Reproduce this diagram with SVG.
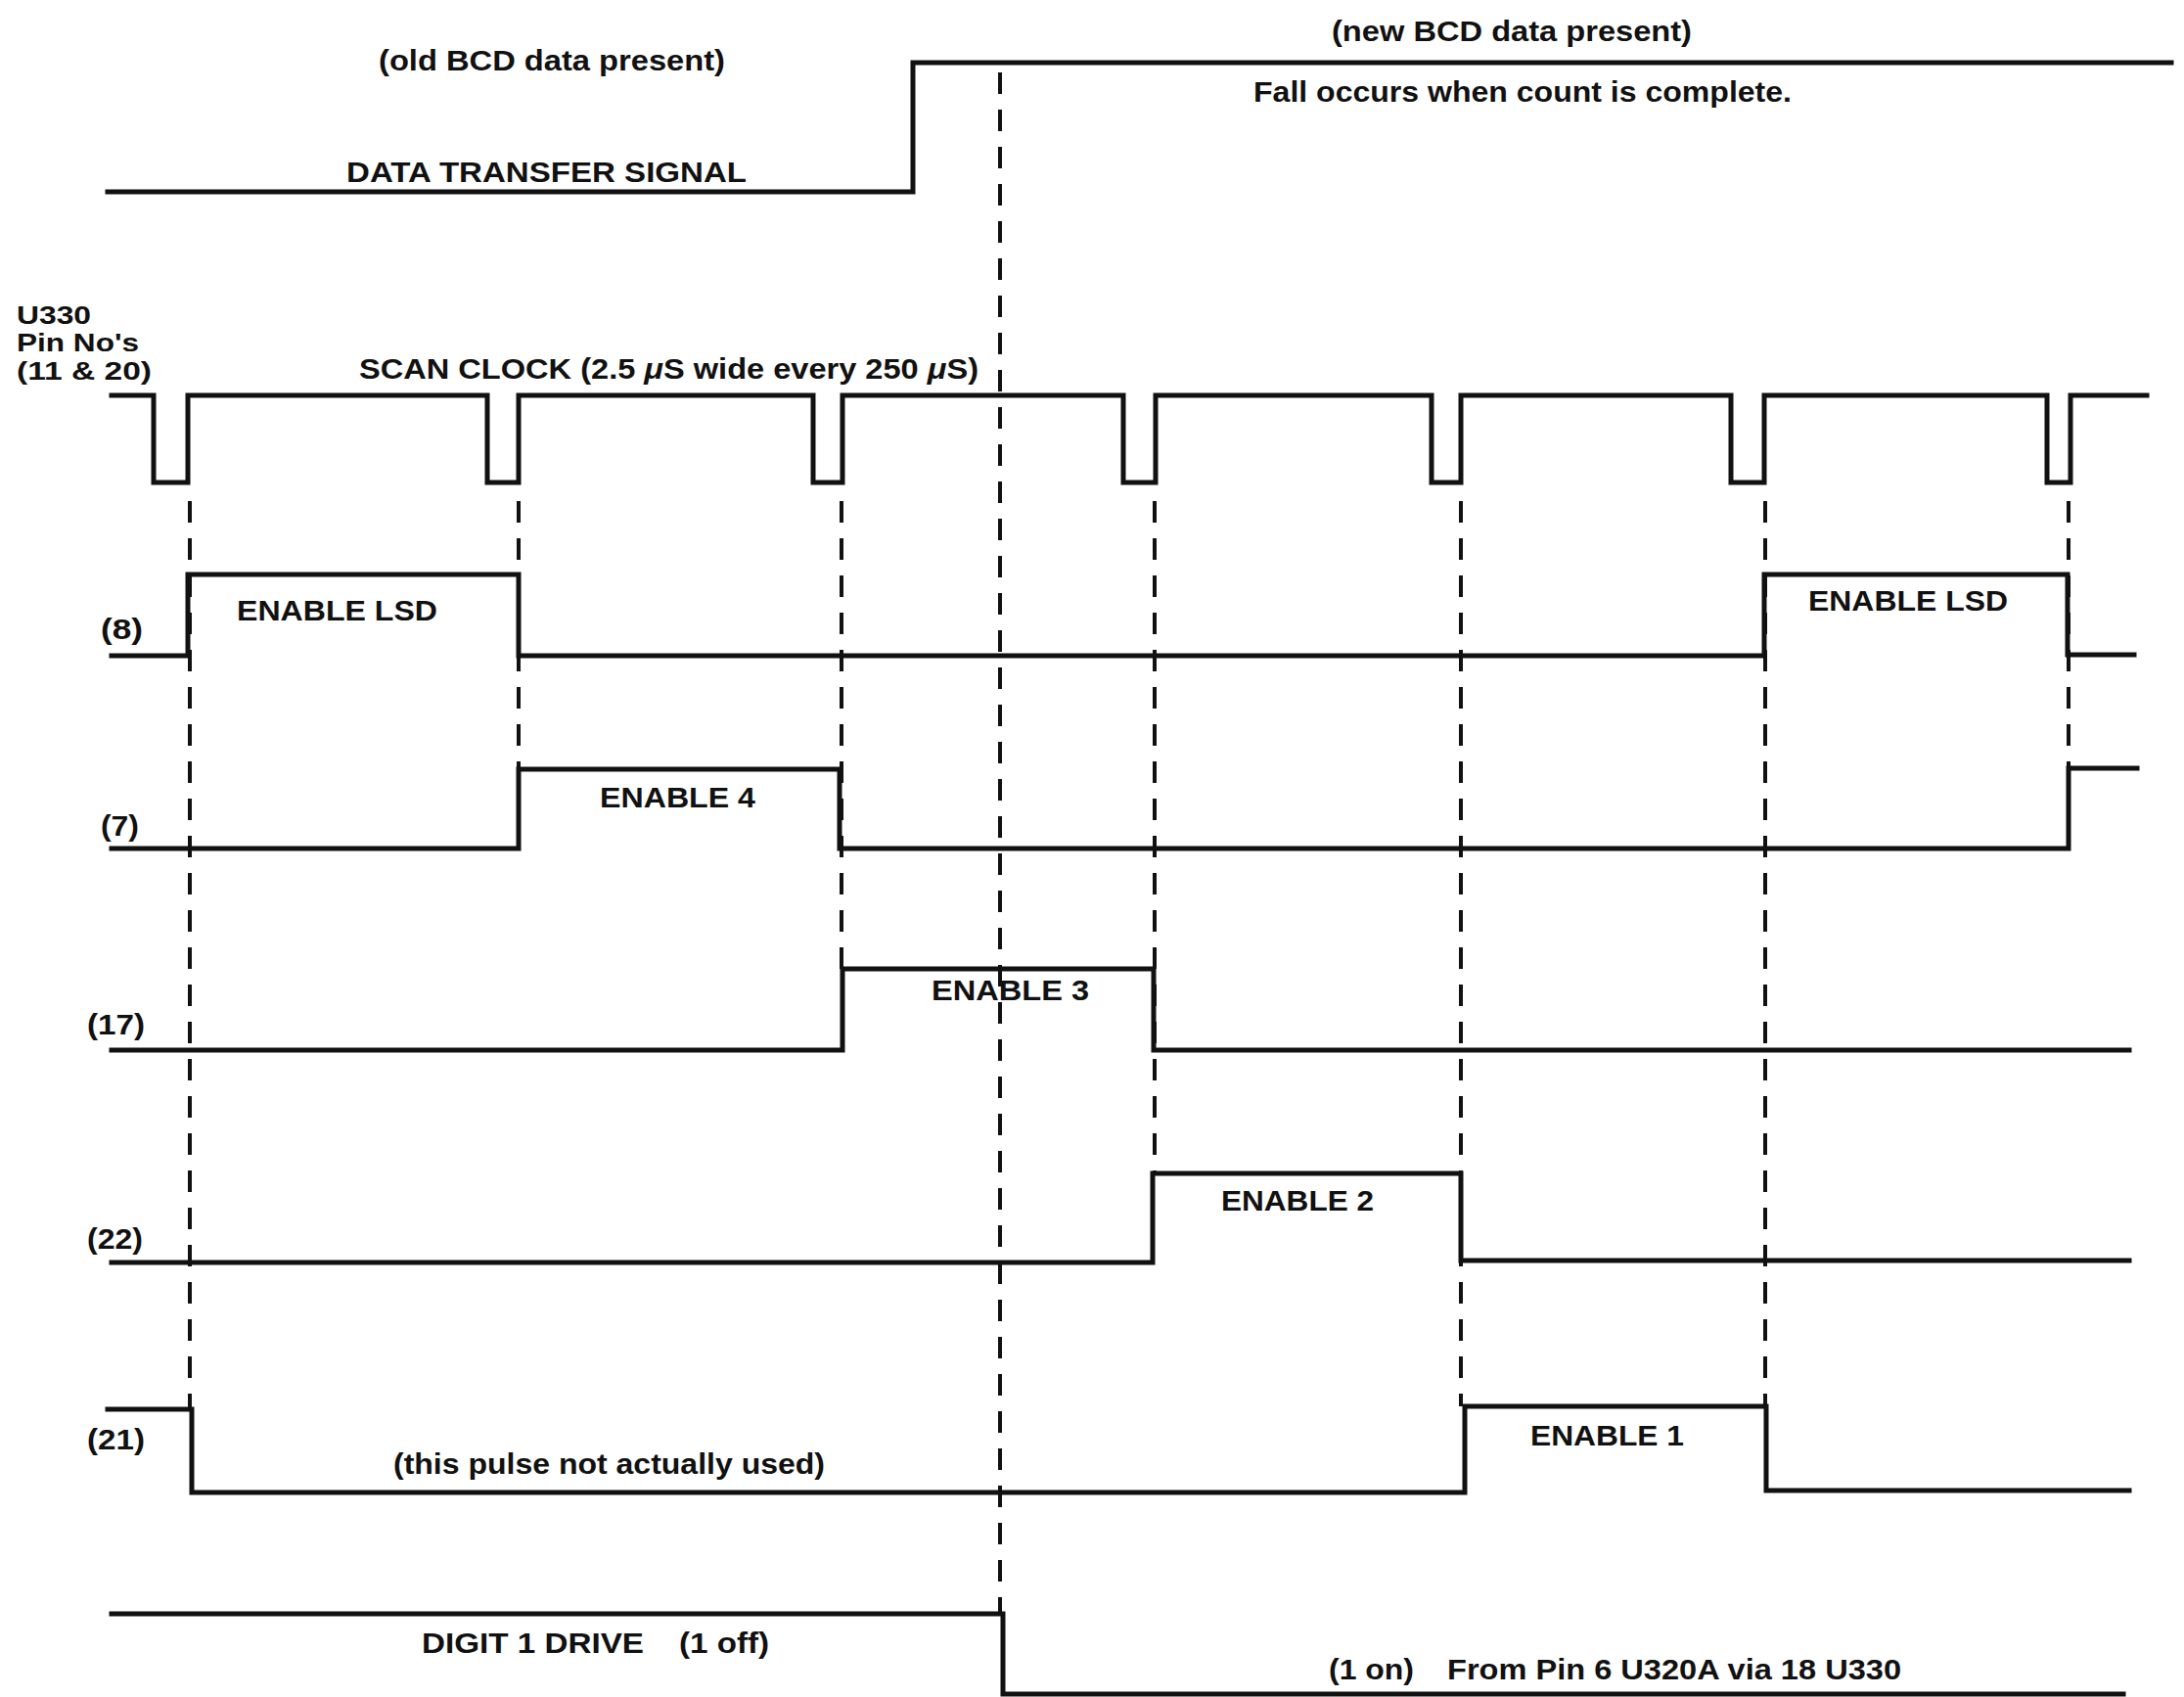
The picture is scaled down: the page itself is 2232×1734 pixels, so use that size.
<svg xmlns="http://www.w3.org/2000/svg" width="2232" height="1734" viewBox="0 0 2232 1734">
<style>
.w{fill:none;stroke:#111;stroke-width:5;stroke-linejoin:miter;stroke-linecap:square}
.d{fill:none;stroke:#111;stroke-width:4;stroke-dasharray:22 16}
text{font-family:"Liberation Sans",Arial,sans-serif;font-weight:bold;font-size:29px;fill:#111}
.p{font-size:26px}
</style>
<rect width="2232" height="1734" fill="#fff"/>
<g id="connectors">
<line class="d" x1="194" y1="512" x2="194" y2="1438"/>
<line class="d" x1="530" y1="512" x2="530" y2="786"/>
<line class="d" x1="860" y1="512" x2="860" y2="990"/>
<line class="d" x1="1022" y1="74" x2="1022" y2="1649"/>
<line class="d" x1="1180" y1="512" x2="1180" y2="1199"/>
<line class="d" x1="1493" y1="512" x2="1493" y2="1437"/>
<line class="d" x1="1804" y1="512" x2="1804" y2="1437"/>
<line class="d" x1="2114" y1="512" x2="2114" y2="785"/>
</g>
<g id="data-transfer">
<path class="w" d="M110,196 H933 V64 H2219"/>
<text x="387" y="72" textLength="354" lengthAdjust="spacingAndGlyphs">(old BCD data present)</text>
<text x="1361" y="42" textLength="368" lengthAdjust="spacingAndGlyphs">(new BCD data present)</text>
<text x="1281" y="104" textLength="550" lengthAdjust="spacingAndGlyphs">Fall occurs when count is complete.</text>
<text x="354" y="186" font-size="31" textLength="409" lengthAdjust="spacingAndGlyphs">DATA TRANSFER SIGNAL</text>
</g>
<g id="pin-label">
<text class="p" x="17" y="331" textLength="76" lengthAdjust="spacingAndGlyphs">U330</text>
<text class="p" x="17" y="359" textLength="125" lengthAdjust="spacingAndGlyphs">Pin No's</text>
<text class="p" x="17" y="388" textLength="138" lengthAdjust="spacingAndGlyphs">(11 &amp; 20)</text>
</g>
<g id="scan-clock">
<path class="w" d="M114,404 H157 V493 H192 V404 H498 V493 H530 V404 H831 V493 H861 V404 H1148 V493 H1181 V404 H1463 V493 H1493 V404 H1769 V493 H1803 V404 H2092 V493 H2116 V404 H2194"/>
<text x="367" y="387" textLength="633" lengthAdjust="spacingAndGlyphs">SCAN CLOCK (2.5 <tspan font-style="italic">μ</tspan>S wide every 250 <tspan font-style="italic">μ</tspan>S)</text>
</g>
<g id="pin8">
<path class="w" d="M114,670 H192 V587 H530 V670 H1803 V587 H2113 V669 H2181"/>
<text x="103" y="653" textLength="43" lengthAdjust="spacingAndGlyphs">(8)</text>
<text x="242" y="634" textLength="205" lengthAdjust="spacingAndGlyphs">ENABLE LSD</text>
<text x="1848" y="624" textLength="204" lengthAdjust="spacingAndGlyphs">ENABLE LSD</text>
</g>
<g id="pin7">
<path class="w" d="M114,867 H530 V786 H858 V867 H2114 V785 H2184"/>
<text x="103" y="854" textLength="39" lengthAdjust="spacingAndGlyphs">(7)</text>
<text x="613" y="825" textLength="159" lengthAdjust="spacingAndGlyphs">ENABLE 4</text>
</g>
<g id="pin17">
<path class="w" d="M114,1073 H861 V990 H1179 V1073 H2176"/>
<text x="89" y="1057" textLength="59" lengthAdjust="spacingAndGlyphs">(17)</text>
<text x="952" y="1022" textLength="161" lengthAdjust="spacingAndGlyphs">ENABLE 3</text>
</g>
<g id="pin22">
<path class="w" d="M114,1290 H1178 V1199 H1493 V1288 H2176"/>
<text x="89" y="1276" textLength="57" lengthAdjust="spacingAndGlyphs">(22)</text>
<text x="1248" y="1237" textLength="156" lengthAdjust="spacingAndGlyphs">ENABLE 2</text>
</g>
<g id="pin21">
<path class="w" d="M110,1440 H196 V1525 H1497 V1437 H1805 V1523 H2176"/>
<text x="89" y="1481" textLength="59" lengthAdjust="spacingAndGlyphs">(21)</text>
<text x="402" y="1506" textLength="441" lengthAdjust="spacingAndGlyphs">(this pulse not actually used)</text>
<text x="1564" y="1477" textLength="157" lengthAdjust="spacingAndGlyphs">ENABLE 1</text>
</g>
<g id="digit1-drive">
<path class="w" d="M114,1649 H1025 V1731 H2170"/>
<text y="1689"><tspan x="431" textLength="227" lengthAdjust="spacingAndGlyphs">DIGIT 1 DRIVE</tspan><tspan x="694" textLength="92" lengthAdjust="spacingAndGlyphs">(1 off)</tspan></text>
<text y="1716"><tspan x="1358" textLength="87" lengthAdjust="spacingAndGlyphs">(1 on)</tspan><tspan x="1479" textLength="464" lengthAdjust="spacingAndGlyphs">From Pin 6 U320A via 18 U330</tspan></text>
</g>
</svg>
